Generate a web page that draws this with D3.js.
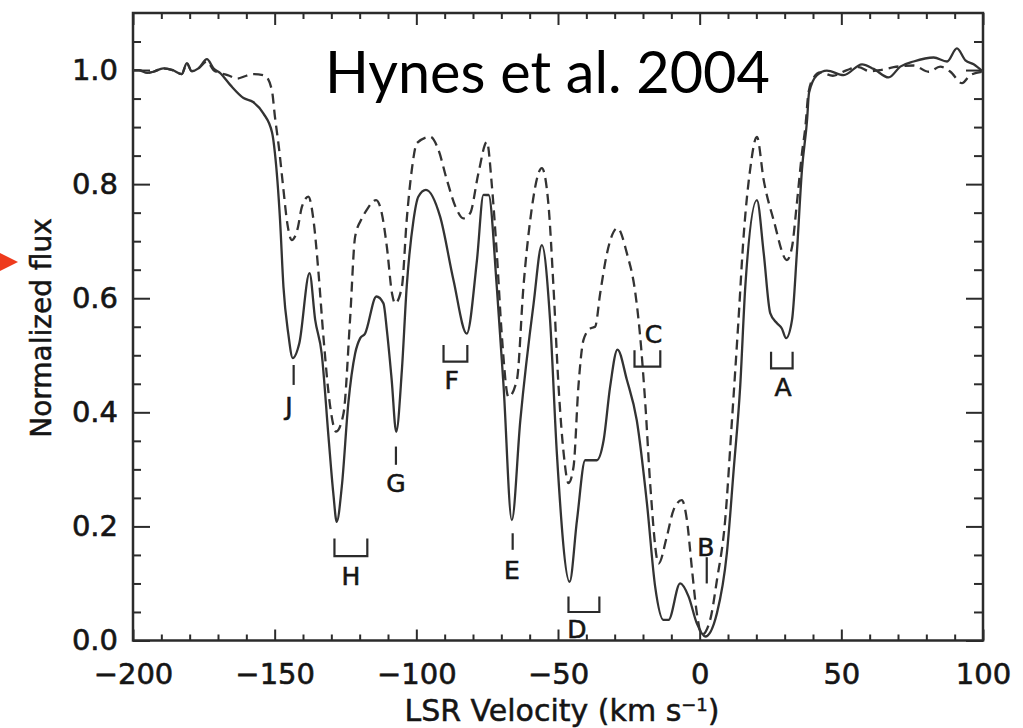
<!DOCTYPE html>
<html><head><meta charset="utf-8">
<script src="https://cdn.jsdelivr.net/npm/d3@7"></script>
<style>body{margin:0;background:#fff;} svg{display:block;}</style>
</head><body>
<svg id="chart" width="1023" height="728"></svg>
<script>
// ---- data ----
const solidVel = [-200,-198,-195,-192.8,-189.3,-186,-182.8,-181,-179.3,-176.9,-173.9,-171.6,-169.3,-165.7,-161,-157.6,-154,-150.9,-149.9,-148.1,-146.9,-145.2,-143.6,-141.3,-137.7,-135.7,-133.4,-131,-129.3,-128.1,-126.3,-124,-121.6,-119.8,-118.1,-114.1,-111.6,-110.4,-108.7,-107.1,-105.1,-103.4,-101,-99.3,-96.6,-91.6,-86.9,-82.2,-78.6,-76.3,-74.5,-71.6,-69.2,-66.3,-63.3,-58.6,-55.7,-52.8,-50.4,-45.9,-43.3,-40.4,-36.3,-33.9,-31.6,-29,-25.7,-22.2,-18.6,-15.7,-12.8,-11,-6.9,-3.9,-1,2,6.1,9.6,12,14.3,16.1,20.2,22.6,24.9,27.3,29,30.5,32.6,34.3,36.1,37.9,38.6,41.4,44.9,50.8,57.3,61.4,66.7,70.8,75.5,82.6,87.3,90.8,93.8,96.7,100];
const solidFlux = [1.0,1.0,0.995,0.997,1.003,1.0,0.993,1.012,0.998,1.003,1.019,1.003,0.995,0.974,0.951,0.944,0.924,0.89,0.854,0.737,0.62,0.538,0.495,0.521,0.644,0.562,0.503,0.357,0.258,0.208,0.27,0.416,0.503,0.53,0.538,0.603,0.591,0.544,0.457,0.366,0.474,0.62,0.737,0.778,0.79,0.743,0.632,0.538,0.667,0.781,0.781,0.62,0.445,0.211,0.386,0.591,0.693,0.562,0.328,0.103,0.211,0.316,0.316,0.351,0.445,0.51,0.457,0.386,0.24,0.094,0.036,0.036,0.1,0.077,0.03,0.007,0.048,0.153,0.299,0.445,0.62,0.772,0.679,0.574,0.556,0.547,0.53,0.562,0.679,0.825,0.912,0.96,0.991,0.999,0.991,1.01,1.002,0.987,1.006,1.015,1.022,1.015,1.038,1.017,1.01,0.997];

const dashVel = [-200,-198,-195,-192.8,-189.3,-186,-182.8,-181,-179.3,-176.9,-173.9,-171.6,-169.3,-166,-163.4,-160,-157.5,-153.4,-151,-149.9,-148.4,-147,-145.5,-144,-141.9,-140.4,-138.1,-136.3,-134.6,-132.8,-130.4,-128.3,-125.7,-123.4,-121.6,-119.2,-117.5,-114.2,-112.2,-110.4,-108.6,-107.5,-105.1,-103.4,-101.6,-99.8,-95.1,-92.2,-89.2,-85.7,-83.4,-81,-78.1,-75.1,-73.3,-71.6,-69.8,-67.5,-64.5,-62.2,-59.8,-55.7,-53.4,-51.6,-49.8,-48,-46.3,-44.5,-42.8,-41,-38.6,-36.9,-35.1,-32.7,-29,-25.7,-22.7,-21,-19.2,-17.4,-14.5,-11.6,-9.2,-6.3,-4.5,-2.7,-1,0.8,3.7,6.1,9,11.4,13.7,15.5,17.8,20.2,22.6,26.1,30.8,32.6,34.3,36.1,37.3,38.4,40,42.6,47,52,56.1,60,63.8,68.5,75.5,80.8,84.9,88.5,92.6,95.5,100];
const dashFlux = [1.0,1.0,0.995,0.997,1.003,1.0,0.993,1.012,0.998,1.003,1.015,1.0,0.995,0.99,0.985,0.99,0.993,0.99,0.965,0.918,0.86,0.795,0.73,0.702,0.722,0.76,0.778,0.737,0.649,0.533,0.41,0.366,0.398,0.562,0.708,0.74,0.755,0.772,0.749,0.69,0.609,0.591,0.62,0.737,0.825,0.872,0.883,0.86,0.807,0.755,0.74,0.749,0.819,0.874,0.795,0.679,0.533,0.427,0.457,0.62,0.737,0.828,0.766,0.62,0.445,0.328,0.276,0.305,0.445,0.527,0.547,0.55,0.609,0.679,0.723,0.679,0.609,0.533,0.416,0.27,0.135,0.182,0.229,0.246,0.211,0.124,0.048,0.01,0.036,0.106,0.211,0.386,0.562,0.708,0.825,0.883,0.807,0.737,0.667,0.69,0.766,0.854,0.9,0.96,0.985,0.996,0.99,1.0,1.005,0.998,1.0,1.005,1.008,0.997,1.006,0.997,0.977,0.991,0.997];

const xTicks = [-200,-150,-100,-50,0,50,100];
const xTickLabels = ["\u2212200","\u2212150","\u2212100","\u221250","0","50","100"];
const yTicks = [0,0.2,0.4,0.6,0.8,1.0];
const yTickLabels = ["0.0","0.2","0.4","0.6","0.8","1.0"];

// absorption components: name, marker kind, velocity span, flux span, label position
const compNames = ["J","H","G","F","E","D","C","B","A"];
const compKind  = ["tick","bracket","tick","bracket","tick","bracket","bracket","tick","bracket"];
const compV0 = [-143.3,-128.9,-107.2,-90.4,-66.0,-46.3,-23.0,2.5,25.2];
const compV1 = [-143.3,-117.3,-107.2,-82.0,-66.0,-35.4,-13.9,2.5,32.8];
const compFTop = [0.483,0.179,0.340,0.518,0.188,0.077,0.509,0.146,0.506];
const compFBot = [0.448,0.148,0.308,0.489,0.159,0.050,0.480,0.100,0.477];
const compLabelV = [-145.0,-123.1,-107.2,-87.5,-66.3,-43.3,-16.3,2.2,29.4];
const compLabelF = [0.411,0.113,0.276,0.457,0.124,0.021,0.538,0.164,0.445];

// ---- chart ----
const svg = d3.select("#chart");
const x = d3.scaleLinear().domain([-200,100]).range([133,983]);
const y = d3.scaleLinear().domain([0,1.1]).range([640.5,13]);
const ink = "#2b2b2b";
const txt = "#151515";
const tickFont = "'DejaVu Sans', sans-serif";

function styleAxis(g){
  g.select(".domain").remove();
  g.selectAll(".tick line").attr("stroke", ink).attr("stroke-width", 2);
  g.selectAll("text").attr("fill", txt).attr("stroke", txt).attr("stroke-width", 0.6)
    .attr("font-family", tickFont).attr("font-size", 29);
}
const xMinor = d3.range(-190,100,10).filter(v => v % 50 !== 0);
const yMinor = d3.range(1,22).map(i => +(i*0.05).toFixed(2)).filter(v => Math.abs(v*5 - Math.round(v*5)) > 1e-6);

// bottom
svg.append("g").attr("transform",`translate(0,${y(0)})`)
  .call(d3.axisBottom(x).tickValues(xTicks).tickSize(-11).tickPadding(23).tickFormat((d,i)=>xTickLabels[i]))
  .call(styleAxis);
svg.append("g").attr("transform",`translate(0,${y(0)})`)
  .call(d3.axisBottom(x).tickValues(xMinor).tickSize(-6).tickFormat(""))
  .call(styleAxis);
// top
svg.append("g").attr("transform",`translate(0,${y(1.1)})`)
  .call(d3.axisTop(x).tickValues(xTicks).tickSize(-12).tickFormat(""))
  .call(styleAxis);
svg.append("g").attr("transform",`translate(0,${y(1.1)})`)
  .call(d3.axisTop(x).tickValues(xMinor).tickSize(-6).tickFormat(""))
  .call(styleAxis);
// left
svg.append("g").attr("transform",`translate(${x(-200)},0)`)
  .call(d3.axisLeft(y).tickValues(yTicks).tickSize(-17).tickPadding(15).tickFormat((d,i)=>yTickLabels[i]))
  .call(styleAxis);
svg.append("g").attr("transform",`translate(${x(-200)},0)`)
  .call(d3.axisLeft(y).tickValues(yMinor).tickSize(-8).tickFormat(""))
  .call(styleAxis);
// right
svg.append("g").attr("transform",`translate(${x(100)},0)`)
  .call(d3.axisRight(y).tickValues(yTicks).tickSize(-17).tickFormat(""))
  .call(styleAxis);
svg.append("g").attr("transform",`translate(${x(100)},0)`)
  .call(d3.axisRight(y).tickValues(yMinor).tickSize(-9).tickFormat(""))
  .call(styleAxis);

// frame
svg.append("rect").attr("x", x(-200)).attr("y", y(1.1))
  .attr("width", x(100)-x(-200)).attr("height", y(0)-y(1.1))
  .attr("fill","none").attr("stroke", ink).attr("stroke-width", 2.5);

// curves
const line = d3.line().x(d=>x(d[0])).y(d=>y(d[1])).curve(d3.curveMonotoneX);
const solid = solidVel.map((v,i)=>[v, solidFlux[i]]);
const dashed = dashVel.map((v,i)=>[v, dashFlux[i]]);
svg.append("path").datum(dashed).attr("d", line).attr("fill","none")
  .attr("stroke", "#333").attr("stroke-width", 2.3).attr("stroke-dasharray","10,6");
svg.append("path").datum(solid).attr("d", line).attr("fill","none")
  .attr("stroke", "#333").attr("stroke-width", 2.3);

// component markers
const comps = svg.append("g");
compNames.forEach((n,i)=>{
  if (compKind[i] === "tick") {
    comps.append("line").attr("x1", x(compV0[i])).attr("x2", x(compV0[i]))
      .attr("y1", y(compFTop[i])).attr("y2", y(compFBot[i]))
      .attr("stroke", ink).attr("stroke-width", 2.2);
  } else {
    const p = d3.path();
    p.moveTo(x(compV0[i]), y(compFTop[i]));
    p.lineTo(x(compV0[i]), y(compFBot[i]));
    p.lineTo(x(compV1[i]), y(compFBot[i]));
    p.lineTo(x(compV1[i]), y(compFTop[i]));
    comps.append("path").attr("d", p.toString()).attr("fill","none")
      .attr("stroke", ink).attr("stroke-width", 2.2);
  }
  comps.append("text").attr("x", x(compLabelV[i])).attr("y", y(compLabelF[i]))
    .attr("dy","0.36em").attr("text-anchor","middle")
    .attr("font-family", tickFont).attr("font-size", 25).attr("fill",txt)
    .attr("stroke", txt).attr("stroke-width", 0.6).text(n);
});

// axis titles
const xt = svg.append("text").attr("x", 562).attr("y", 721).attr("text-anchor","middle")
  .attr("font-family", tickFont).attr("font-size", 30).attr("fill",txt)
  .attr("stroke", txt).attr("stroke-width", 0.5);
xt.append("tspan").text("LSR Velocity (km s");
xt.append("tspan").attr("font-size", 18).attr("dy", -10).text("\u22121");
xt.append("tspan").attr("dy", 10).text(")");

svg.append("text").attr("transform","translate(51,328) rotate(-90)").attr("text-anchor","middle")
  .attr("font-family", tickFont).attr("font-size", 28).attr("fill",txt)
  .attr("stroke", txt).attr("stroke-width", 0.5).text("Normalized flux");

// title
const title = svg.append("text").attr("x", 325).attr("y", 93)
  .attr("font-family","Lato, 'Open Sans', sans-serif").attr("font-size", 58).attr("fill","#000")
  .text("Hynes et al. 2004");
const w = title.node().getComputedTextLength();
title.attr("font-size", 58 * 445 / w);

// red pointer
svg.append("path").attr("d","M0,253 L18,262 L0,271 Z").attr("fill","#ee3a1c");
</script>
</body></html>
